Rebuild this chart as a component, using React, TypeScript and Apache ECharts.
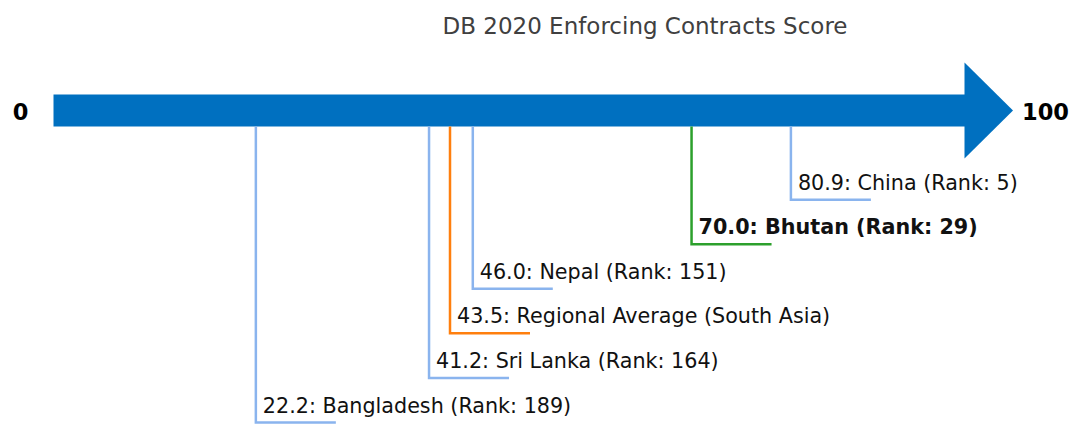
import React, { useEffect, useRef } from "react";
import * as echarts from "echarts";

const TITLE = "DB 2020 Enforcing Contracts Score";
const AXIS_MIN = 0;
const AXIS_MAX = 100;
const names = ["Bangladesh", "Sri Lanka", "Regional Average (South Asia)", "Nepal", "Bhutan", "China"];
const scores = [22.2, 41.2, 43.5, 46.0, 70.0, 80.9];
const ranks: (number | null)[] = [189, 164, null, 151, 29, 5];
const kinds = ["peer", "peer", "region", "peer", "focus", "peer"];

const COLORS: Record<string, string> = {
  peer: "#8AB4EE",
  region: "#FF7F0E",
  focus: "#2CA02C",
};
const FONT = "DejaVu Sans, sans-serif";

export default function App() {
  const ref = useRef<HTMLDivElement>(null);
  useEffect(() => {
    if (!ref.current) return;
    const chart = echarts.init(ref.current, null, { renderer: "svg" });
    const BAR_LEVEL = -1;
    const items = scores.map((s, i) => {
      const level = scores.filter((o) => o >= s).length;
      return { value: [s, level, i] };
    });
    chart.setOption({
      animation: false,
      title: {
        text: TITLE,
        left: 640,
        top: 9,
        textAlign: "center",
        textStyle: { fontFamily: FONT, fontSize: 23, fontWeight: "normal", color: "#404040" },
      },
      grid: { left: 53.5, right: 107, top: 110.5, bottom: 1.5 },
      xAxis: { type: "value", min: AXIS_MIN, max: AXIS_MAX, show: false },
      yAxis: { type: "value", min: -1, max: 6, inverse: true, show: false },
      series: [
        {
          type: "custom",
          clip: false,
          silent: true,
          data: [[AXIS_MIN, BAR_LEVEL, AXIS_MAX]],
          renderItem: (params: any, api: any) => {
            const a = api.coord([api.value(0), api.value(1)]);
            const b = api.coord([api.value(2), api.value(1)]);
            const half = 16;
            const head = 48;
            return {
              type: "group",
              children: [
                {
                  type: "rect",
                  shape: { x: a[0], y: a[1] - half, width: b[0] - a[0], height: half * 2 },
                  style: { fill: "#0070C0" },
                },
                {
                  type: "polygon",
                  shape: { points: [[b[0] - 0.5, b[1] - head], [b[0] + head, b[1]], [b[0] - 0.5, b[1] + head]] },
                  style: { fill: "#0070C0" },
                },
                {
                  type: "text",
                  x: a[0] - 33,
                  y: a[1] + 1,
                  style: {
                    text: String(AXIS_MIN),
                    textAlign: "center",
                    textVerticalAlign: "middle",
                    font: `bold 22.5px ${FONT}`,
                    fill: "#000",
                  },
                },
                {
                  type: "text",
                  x: b[0] + head + 9,
                  y: b[1] + 1,
                  style: {
                    text: String(AXIS_MAX),
                    textAlign: "left",
                    textVerticalAlign: "middle",
                    font: `bold 22.5px ${FONT}`,
                    fill: "#000",
                  },
                },
              ],
            };
          },
        },
        {
          type: "custom",
          clip: false,
          silent: true,
          data: items,
          renderItem: (params: any, api: any) => {
            const s = api.value(0);
            const lvl = api.value(1);
            const i = api.value(2);
            const top = api.coord([s, BAR_LEVEL])[1] + 16;
            const p = api.coord([s, lvl]);
            const kind = kinds[i];
            const rank = ranks[i];
            const label =
              `${s.toFixed(1)}: ${names[i]}` + (rank != null ? ` (Rank: ${rank})` : "");
            return {
              type: "group",
              children: [
                {
                  type: "polyline",
                  shape: { points: [[p[0], top], [p[0], p[1]], [p[0] + 80, p[1]]] },
                  style: { stroke: COLORS[kind], lineWidth: 2.5, fill: null },
                },
                {
                  type: "text",
                  x: p[0] + 7,
                  y: p[1] - 17,
                  style: {
                    text: label,
                    textAlign: "left",
                    textVerticalAlign: "middle",
                    font: `${kind === "focus" ? "bold " : ""}20.7px ${FONT}`,
                    fill: "#111",
                  },
                },
              ],
            };
          },
        },
      ],
    });
    return () => chart.dispose();
  }, []);
  return (
    <div
      ref={ref}
      style={{ position: "fixed", left: 0, top: 0, width: 1072, height: 424, background: "#fff" }}
    />
  );
}
